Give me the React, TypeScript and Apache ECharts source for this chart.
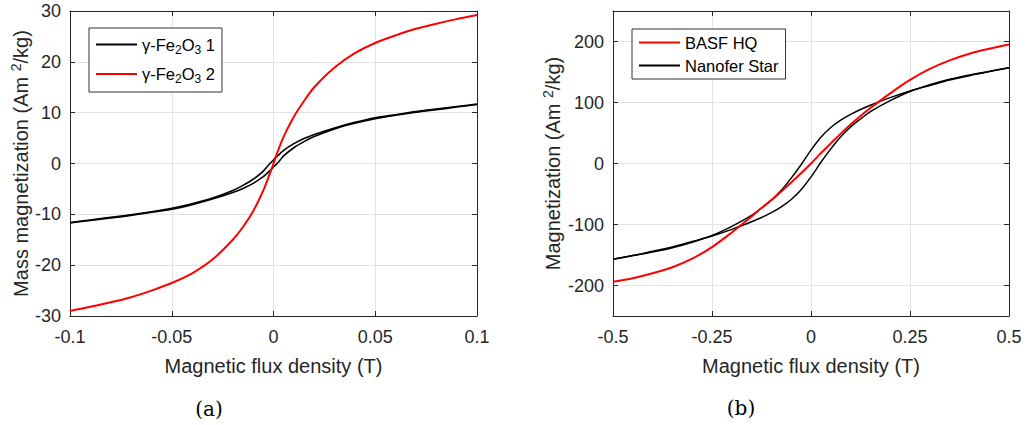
import React, { useEffect, useRef } from 'react';
import * as echarts from 'echarts';

// ---------- data (a) ----------
const fluxA = [-0.1, -0.09, -0.08, -0.07, -0.06, -0.05, -0.04, -0.03, -0.02, -0.015, -0.01, -0.005, -0.002, 0, 0.002, 0.005, 0.01, 0.015, 0.02, 0.03, 0.04, 0.05, 0.06, 0.07, 0.08, 0.09, 0.1];
const gammaOneRising = [-11.7, -11.2, -10.7, -10.2, -9.6, -9.0, -8.1, -7.0, -5.7, -4.9, -3.9, -2.6, -1.5, -0.7, 0.1, 1.5, 3.1, 4.3, 5.3, 6.8, 7.9, 8.8, 9.5, 10.1, 10.6, 11.1, 11.6];
const gammaOneFalling = [-11.6, -11.1, -10.6, -10.1, -9.5, -8.8, -7.9, -6.8, -5.3, -4.3, -3.1, -1.5, -0.1, 0.7, 1.5, 2.6, 3.9, 4.9, 5.7, 7.0, 8.1, 9.0, 9.6, 10.2, 10.7, 11.2, 11.7];
const gammaTwo = [-29.0, -28.2, -27.3, -26.3, -25.0, -23.5, -21.6, -18.9, -15.0, -12.5, -9.4, -5.3, -2.2, 0, 2.3, 5.3, 9.2, 12.3, 15.0, 18.9, 21.7, 23.7, 25.2, 26.5, 27.5, 28.4, 29.2];

// ---------- data (b) ----------
const fluxB = [-0.5, -0.45, -0.4, -0.35, -0.3, -0.25, -0.2, -0.15, -0.125, -0.1, -0.075, -0.05, -0.025, 0, 0.025, 0.05, 0.075, 0.1, 0.125, 0.15, 0.2, 0.25, 0.3, 0.35, 0.4, 0.45, 0.5];
const nanoferRising = [-157, -151, -144, -137, -128, -119, -108, -95.5, -88.5, -80.5, -71, -59, -43, -22, 2, 24, 44, 60, 73, 85, 103, 118, 129, 138, 145, 151, 157];
const nanoferFalling = [-157, -151, -145, -138, -129, -118, -103, -85, -73, -60, -44, -24, -2, 22, 43, 59, 71, 80.5, 88.5, 95.5, 108, 119, 128, 137, 144, 151, 157];
const basfHQ = [-194, -188, -180, -170, -156, -137, -113, -87, -73, -60, -46, -31, -16, 0, 17, 33, 49, 64, 78, 91, 115, 137, 155, 169, 180, 188, 195];

// ---------- ticks ----------
const xTicksA = [-0.1, -0.05, 0, 0.05, 0.1];
const yTicksA = [-30, -20, -10, 0, 10, 20, 30];
const xTicksB = [-0.5, -0.25, 0, 0.25, 0.5];
const yTicksB = [-200, -100, 0, 100, 200];

const nameGamma1 = 'γ-Fe2O3 1';
const nameGamma2 = 'γ-Fe2O3 2';
const nameBasf = 'BASF HQ';
const nameNanofer = 'Nanofer Star';

const FONT = '"Liberation Sans", Arial, Helvetica, sans-serif';
const AXIS_COLOR = '#262626';
const GRID_COLOR = '#e3e3e3';

function pairs(flux: number[], values: number[]) {
  return flux.map((b, i) => [b, values[i]]);
}

function axes(kind: 'x' | 'y', gridIndex: number, min: number, max: number, ticks: number[], name: string, nameGap: number) {
  const axisLine = { show: true, onZero: false, lineStyle: { color: AXIS_COLOR, width: 1 } };
  const axisTick = { show: true, inside: true, length: 5, customValues: ticks, lineStyle: { color: AXIS_COLOR, width: 1 } };
  const main: any = {
    type: 'value', gridIndex, min, max,
    position: kind === 'x' ? 'bottom' : 'left',
    name, nameLocation: 'middle', nameGap,
    nameTextStyle: {
      fontFamily: FONT, fontSize: 20, color: AXIS_COLOR,
      rich: {
        n: { fontFamily: FONT, fontSize: 20, color: AXIS_COLOR, lineHeight: 24, verticalAlign: 'middle' },
        sup: { fontFamily: FONT, fontSize: 14, color: AXIS_COLOR, lineHeight: 12, verticalAlign: 'top' },
      },
    },
    axisLine, axisTick,
    axisLabel: { show: true, customValues: ticks, margin: kind === 'x' ? 12 : 9, fontFamily: FONT, fontSize: 18, color: AXIS_COLOR },
    splitLine: { show: true, lineStyle: { color: GRID_COLOR, width: 1 } },
  };
  const mirror: any = {
    type: 'value', gridIndex, min, max,
    position: kind === 'x' ? 'top' : 'right',
    axisLine, axisTick,
    axisLabel: { show: false },
    splitLine: { show: false },
  };
  return [main, mirror];
}

function legendFormatter(name: string) {
  if (name.startsWith('γ-Fe2O3')) {
    return '{n|γ-Fe}{s|2}{n|O}{s|3}{n|' + name.slice(7) + '}';
  }
  return '{n|' + name + '}';
}

function lineSeries(name: string, xi: number, data: number[][], color: string, width: number) {
  return {
    name, type: 'line', xAxisIndex: xi, yAxisIndex: xi,
    data, symbol: 'none', showSymbol: false,
    smooth: 0.3,
    lineStyle: { color, width }, itemStyle: { color },
  };
}

export default function App() {
  const ref = useRef<HTMLDivElement>(null);
  useEffect(() => {
    if (!ref.current) return;
    const chart = echarts.init(ref.current, undefined, { renderer: 'svg' });
    const xa = axes('x', 0, -0.1, 0.1, xTicksA, 'Magnetic flux density (T)', 40);
    const ya = axes('y', 0, -30, 30, yTicksA, '{n|Mass magnetization (Am }{sup|2}{n|/kg)}', 36);
    const xb = axes('x', 1, -0.5, 0.5, xTicksB, 'Magnetic flux density (T)', 40);
    const yb = axes('y', 1, -250, 250, yTicksB, '{n|Magnetization (Am }{sup|2}{n|/kg)}', 48);
    const legendBase = {
      orient: 'vertical',
      icon: 'rect',
      itemWidth: 41,
      itemHeight: 2,
      borderColor: '#333',
      borderWidth: 1,
      borderRadius: 0,
      backgroundColor: '#ffffff',
      formatter: legendFormatter,
      selectedMode: false,
    };
    const option: any = {
      animation: false,
      backgroundColor: '#ffffff',
      grid: [
        { left: 70, top: 11, width: 407, height: 305, containLabel: false },
        { left: 613, top: 11, width: 396, height: 305, containLabel: false },
      ],
      xAxis: [xa[0], xa[1], xb[0], xb[1]],
      yAxis: [ya[0], ya[1], yb[0], yb[1]],
      legend: [
        {
          ...legendBase,
          left: 89, top: 28,
          padding: [8, 7, 7, 7],
          itemGap: 10,
          data: [nameGamma1, nameGamma2],
          textStyle: {
            rich: {
              n: { fontFamily: FONT, fontSize: 16.5, color: '#000', lineHeight: 22, verticalAlign: 'middle' },
              s: { fontFamily: FONT, fontSize: 12, color: '#000', lineHeight: 10, verticalAlign: 'bottom' },
            },
          },
        },
        {
          ...legendBase,
          left: 632, top: 29,
          padding: [5, 7, 5, 7],
          itemGap: 6,
          data: [nameBasf, nameNanofer],
          textStyle: {
            rich: {
              n: { fontFamily: FONT, fontSize: 16.5, color: '#000', lineHeight: 18 },
            },
          },
        },
      ],
      graphic: [
        { type: 'text', x: 209, y: 409, style: { text: '(a)', font: '20px "DejaVu Serif", serif', fill: '#000', align: 'center', verticalAlign: 'middle' } },
        { type: 'text', x: 741, y: 408, style: { text: '(b)', font: '20px "DejaVu Serif", serif', fill: '#000', align: 'center', verticalAlign: 'middle' } },
      ],
      series: [
        lineSeries(nameGamma1, 0, pairs(fluxA, gammaOneRising), '#000000', 1.6),
        lineSeries(nameGamma1, 0, pairs(fluxA, gammaOneFalling), '#000000', 1.6),
        lineSeries(nameGamma2, 0, pairs(fluxA, gammaTwo), '#ff0000', 2),
        lineSeries(nameNanofer, 2, pairs(fluxB, nanoferRising), '#000000', 1.5),
        lineSeries(nameNanofer, 2, pairs(fluxB, nanoferFalling), '#000000', 1.5),
        lineSeries(nameBasf, 2, pairs(fluxB, basfHQ), '#ff0000', 2),
      ],
    };
    chart.setOption(option);
    return () => chart.dispose();
  }, []);
  return <div ref={ref} style={{ position: 'fixed', left: 0, top: 0, width: 1027, height: 425, background: '#fff' }} />;
}
